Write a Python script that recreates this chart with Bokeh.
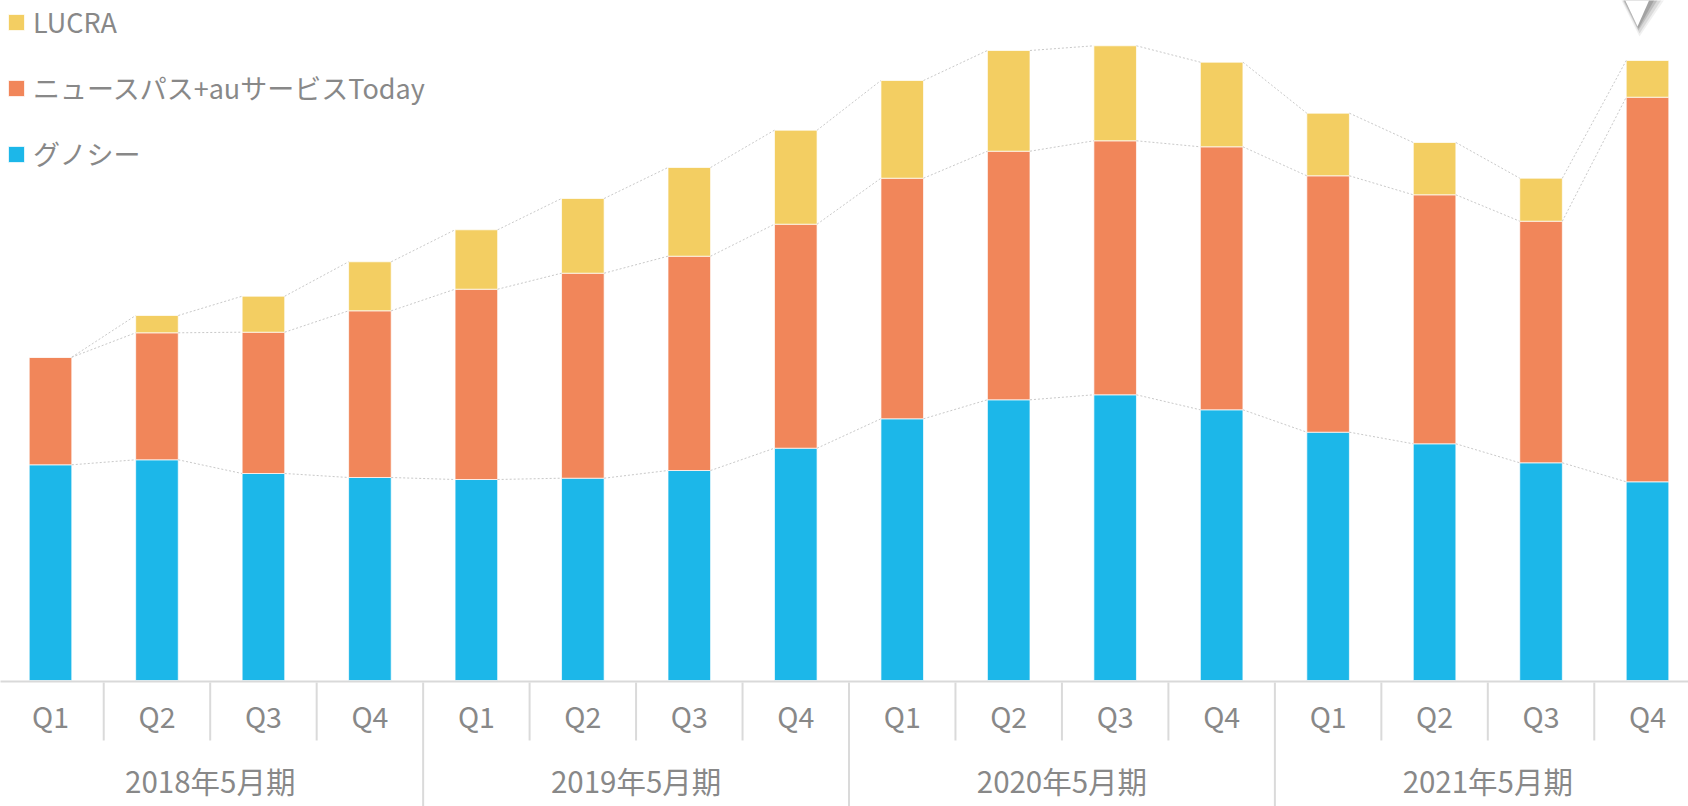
import numpy as np
from bokeh.plotting import figure
from bokeh.models import Range1d, Legend, LegendItem, ColumnDataSource
from bokeh.core.properties import value
from bokeh.embed import file_html
from bokeh.resources import INLINE

# ---- data (unitless bar heights) ----
years = ["2018年5月期", "2019年5月期", "2020年5月期", "2021年5月期"]
quarters = ["Q1", "Q2", "Q3", "Q4"]
gunosy = [215.7, 220.7, 207.0, 203.0, 201.0, 202.3, 210.0, 232.3,
          261.7, 280.7, 285.7, 270.7, 248.3, 236.7, 217.7, 198.7]
newspass = [107.6, 127.0, 141.3, 166.7, 190.3, 205.0, 214.3, 224.0,
            240.6, 248.6, 254.0, 263.0, 256.4, 249.0, 241.6, 384.6]
lucra = [0.0, 17.3, 36.0, 49.0, 59.4, 74.7, 88.7, 94.0,
         97.7, 100.7, 95.0, 84.6, 62.6, 52.3, 43.0, 36.7]
series_keys = ["gunosy", "newspass", "lucra"]
series_names = ["グノシー", "ニュースパス+auサービスToday", "LUCRA"]
colors = ["#1CB7E9", "#F1865A", "#F3CE62"]

FONT = "Noto Sans CJK JP"
TEXT_COLOR = "#888888"
W, H = 1688, 806

n = len(years) * len(quarters)
x = np.arange(n)
q_labels = [q for _ in years for q in quarters]

src = ColumnDataSource(dict(x=x, gunosy=gunosy, newspass=newspass, lucra=lucra))

X0, X1 = -0.4696, 15.385
p = figure(width=W, height=H, output_backend="svg", toolbar_location=None,
           x_range=Range1d(X0, X1), y_range=Range1d(-126, 680),
           x_axis_location=None, y_axis_location=None, min_border=0,
           outline_line_color=None, background_fill_color="white",
           border_fill_color="white")
p.grid.visible = False

bw = 0.40
rs = p.vbar_stack(series_keys, x="x", width=bw, color=colors, source=src,
                  line_color="white", line_width=1, line_alpha=0.7)

# dotted connectors between stack levels
c1 = np.array(gunosy)
c2 = c1 + np.array(newspass)
c3 = c2 + np.array(lucra)
for lvl in (c1, c2, c3):
    p.segment(x0=x[:-1] + bw / 2, y0=lvl[:-1], x1=x[1:] - bw / 2, y1=lvl[1:],
              line_color="#c9c9c9", line_width=1, line_dash="2 2")

# baseline
p.segment(x0=[-1], y0=[-1], x1=[n + 1], y1=[-1], line_color="#d9d9d9", line_width=2)

# dividers: within-year (short) and between years (long)
qdiv = [i + 0.5 for i in range(n - 1) if (i + 1) % 4 != 0]
ydiv = [i + 0.5 for i in range(n - 1) if (i + 1) % 4 == 0]
p.segment(x0=qdiv, y0=[-2] * len(qdiv), x1=qdiv, y1=[-60] * len(qdiv),
          line_color="#dadada", line_width=2)
p.segment(x0=ydiv, y0=[-2] * len(ydiv), x1=ydiv, y1=[-130] * len(ydiv),
          line_color="#dadada", line_width=2)

# category labels
p.text(x=x, y=[-35] * n, text=q_labels, text_align="center", text_baseline="middle",
       text_font=value(FONT), text_font_size="28.5px", text_color=TEXT_COLOR)
yx = [4 * k + 1.5 for k in range(len(years))]
p.text(x=yx, y=[-99] * len(years), text=years, text_align="center",
       text_baseline="middle", text_font=value(FONT), text_font_size="29.5px",
       text_color=TEXT_COLOR)

# pointer triangle decoration (with soft shadow) at top right
pitch = W / (X1 - X0)
def px(v):
    return X0 + v / pitch
def py(v):
    return 680 - v
layers = [((1616, 1670, 1639, 36), "#444444", 0.08),
          ((1617, 1667, 1639, 33), "#444444", 0.12),
          ((1618, 1663, 1638, 30), "#444444", 0.18),
          ((1619, 1659, 1638, 28), "#444444", 0.22),
          ((1620, 1653, 1637, 26), "white", 1.0)]
for (l, r, t, ty), c, a in layers:
    p.patch(x=[px(l), px(r), px(t)], y=[py(-10), py(-10), py(ty)],
            fill_color=c, fill_alpha=a, line_alpha=0)

legend = Legend(items=[LegendItem(label=series_names[2], renderers=[rs[2]]),
                       LegendItem(label=series_names[1], renderers=[rs[1]]),
                       LegendItem(label=series_names[0], renderers=[rs[0]])],
                location=(6, 633), glyph_width=20, glyph_height=20,
                label_height=30, spacing=27, padding=0, margin=0,
                label_standoff=7, label_text_font=FONT, label_text_font_size="27px",
                label_text_color=TEXT_COLOR, border_line_alpha=0,
                background_fill_alpha=0)
p.add_layout(legend)

open("out.html", "w").write(file_html(p, INLINE))
